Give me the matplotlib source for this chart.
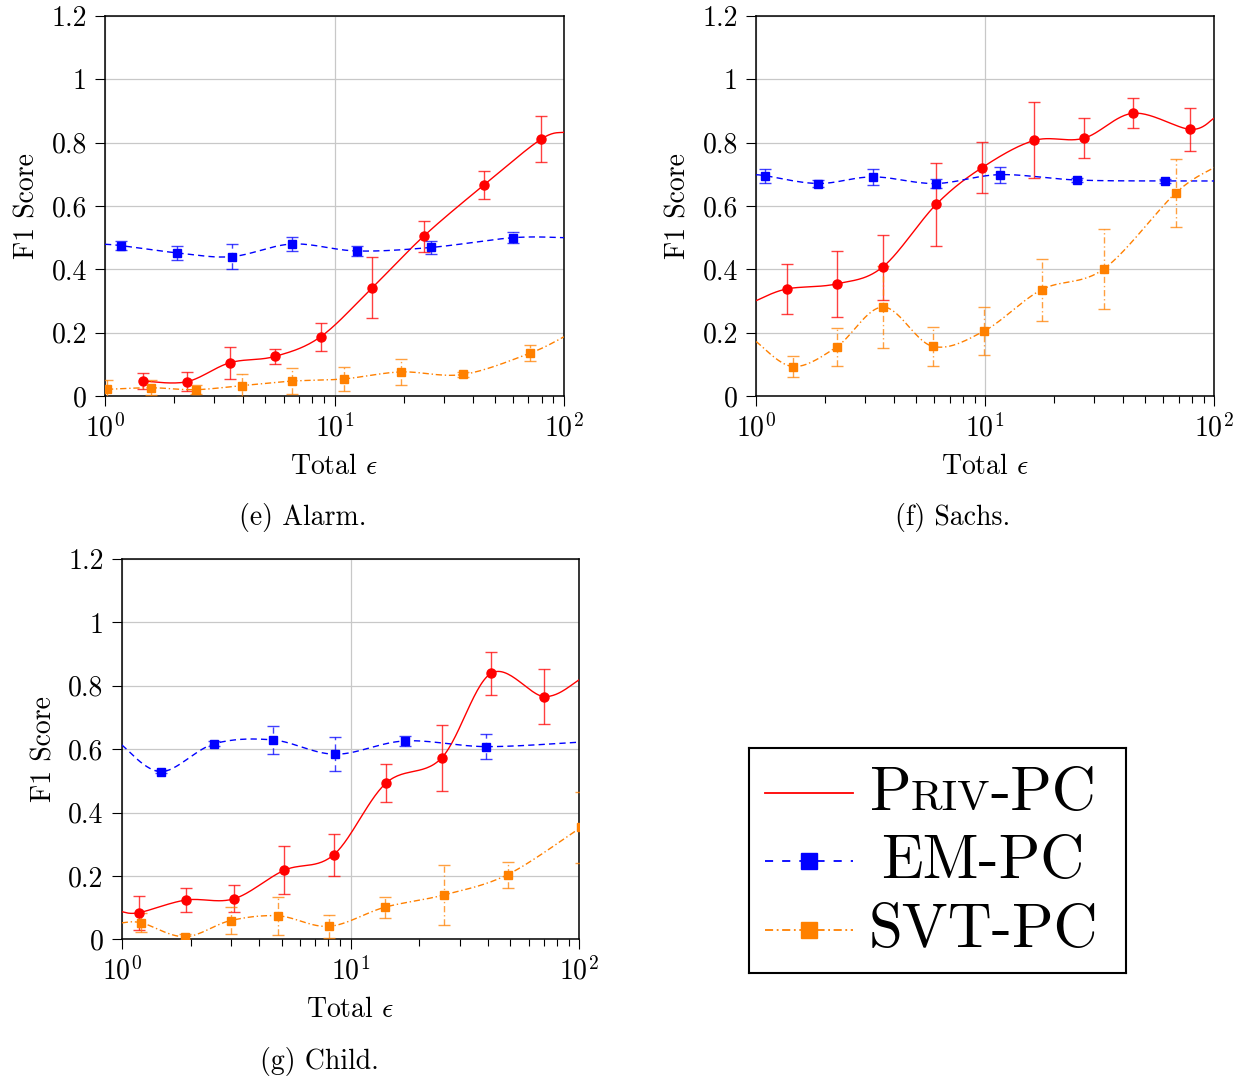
import numpy as np
import matplotlib
matplotlib.use("Agg")
import matplotlib.pyplot as plt
from matplotlib.ticker import FixedLocator, LogLocator, NullFormatter

plt.rcParams["font.family"] = ["cmr10", "DejaVu Serif"]
plt.rcParams["mathtext.fontset"] = "cm"
plt.rcParams["axes.formatter.use_mathtext"] = True
plt.rcParams["axes.unicode_minus"] = False

# ---- Alarm ----
alarm_priv_x = [1.47, 2.27, 3.5, 5.5, 8.7, 14.6, 24.5, 44.7, 79.4]
alarm_priv_y = [0.047, 0.045, 0.105, 0.125, 0.187, 0.342, 0.505, 0.666, 0.811]
alarm_priv_e = [0.026, 0.03, 0.05, 0.025, 0.044, 0.096, 0.049, 0.044, 0.073]
alarm_em_x = [1.17, 2.06, 3.56, 6.55, 12.5, 26.3, 60.1]
alarm_em_y = [0.475, 0.452, 0.44, 0.48, 0.458, 0.469, 0.5]
alarm_em_e = [0.015, 0.023, 0.04, 0.023, 0.015, 0.021, 0.017]
alarm_svt_x = [1.02, 1.59, 2.48, 3.97, 6.5, 11.0, 19.5, 36.3, 71]
alarm_svt_y = [0.021, 0.026, 0.02, 0.033, 0.047, 0.054, 0.076, 0.068, 0.135]
alarm_svt_e = [0.03, 0.024, 0.015, 0.036, 0.04, 0.037, 0.04, 0.008, 0.025]
# curve values where the lines leave the axes (left, right); None = starts at first point
alarm_ends = {"priv": (None, 0.833), "em": (0.479, 0.5), "svt": (None, 0.187)}

# ---- Sachs ----
sachs_priv_x = [1.36, 2.25, 3.57, 6.12, 9.7, 16.4, 27, 44.5, 78.8]
sachs_priv_y = [0.338, 0.354, 0.407, 0.605, 0.721, 0.807, 0.814, 0.893, 0.842]
sachs_priv_e = [0.078, 0.104, 0.103, 0.13, 0.08, 0.12, 0.063, 0.047, 0.067]
sachs_em_x = [1.09, 1.87, 3.25, 6.08, 11.6, 25.2, 60.9]
sachs_em_y = [0.696, 0.671, 0.692, 0.671, 0.699, 0.682, 0.679]
sachs_em_e = [0.022, 0.01, 0.026, 0.015, 0.025, 0.006, 0.005]
sachs_svt_x = [1.45, 2.25, 3.59, 5.9, 9.9, 17.7, 33, 68]
sachs_svt_y = [0.093, 0.155, 0.281, 0.157, 0.205, 0.336, 0.401, 0.641]
sachs_svt_e = [0.032, 0.059, 0.13, 0.061, 0.077, 0.098, 0.126, 0.106]
sachs_ends = {"priv": (0.301, 0.877), "em": (0.698, 0.679), "svt": (0.172, 0.721)}

# ---- Child ----
child_priv_x = [1.19, 1.91, 3.1, 5.14, 8.46, 14.3, 25, 41.1, 70.1]
child_priv_y = [0.084, 0.124, 0.128, 0.218, 0.267, 0.493, 0.572, 0.839, 0.766]
child_priv_e = [0.054, 0.038, 0.043, 0.076, 0.066, 0.059, 0.104, 0.068, 0.088]
child_em_x = [1.49, 2.54, 4.6, 8.59, 17.3, 39.1]
child_em_y = [0.529, 0.617, 0.629, 0.584, 0.626, 0.608]
child_em_e = [0.005, 0.008, 0.043, 0.053, 0.017, 0.04]
child_svt_x = [1.22, 1.89, 2.99, 4.84, 8.08, 14.1, 25.6, 48.6, 101.5]
child_svt_y = [0.052, 0.008, 0.059, 0.074, 0.041, 0.101, 0.14, 0.204, 0.353]
child_svt_e = [0.03, 0.01, 0.043, 0.06, 0.037, 0.033, 0.095, 0.041, 0.113]
child_ends = {"priv": (0.087, 0.819), "em": (0.613, 0.622), "svt": (0.052, None)}

ORANGE = (1.0, 0.5, 0.0)
styles = {
    "priv": dict(color="red", ls="-", marker="o", ms=6.5),
    "em": dict(color="blue", ls=(0, (4.5, 3)), marker="s", ms=5.5),
    "svt": dict(color=ORANGE, ls=(0, (4.5, 2, 1, 2)), marker="s", ms=5.5),
}
FS = 20


def smooth(xs, ys, n=30):
    # Catmull-Rom style bezier through points, in log-x plot space
    u = np.log10(xs) * 229.0
    v = np.array(ys) * 316.7
    P = np.column_stack([u, v])
    P = np.vstack([P[0], P, P[-1]])
    out = []
    for i in range(1, len(P) - 2):
        p0, p1, p2, p3 = P[i - 1], P[i], P[i + 1], P[i + 2]
        c1 = p1 + (p2 - p0) / 6.0
        c2 = p2 - (p3 - p1) / 6.0
        t = np.linspace(0, 1, n)[:, None]
        b = (1 - t) ** 3 * p1 + 3 * (1 - t) ** 2 * t * c1 + 3 * (1 - t) * t ** 2 * c2 + t ** 3 * p2
        out.append(b)
    B = np.vstack(out)
    return 10 ** (B[:, 0] / 229.0), B[:, 1] / 316.7


def draw_series(ax, key, xs, ys, es, ends):
    st = styles[key]
    lx, ly = list(xs), list(ys)
    left, right = ends
    if left is not None:
        lx = [1.0] + lx
        ly = [left] + ly
    if right is not None:
        lx = lx + [100.0]
        ly = ly + [right]
    cx, cy = smooth(lx, ly)
    ax.plot(cx, cy, color=st["color"], ls=st["ls"], lw=1.0, zorder=3)
    eb = ax.errorbar(xs, ys, yerr=es, fmt="none", ecolor=st["color"], elinewidth=1.0,
                     capsize=4, capthick=1.0, alpha=0.75, zorder=3)
    for lc in eb[2]:
        lc.set_linestyle(st["ls"])
    ax.plot(xs, ys, ls="none", marker=st["marker"], ms=st["ms"], color=st["color"],
            mec=st["color"], zorder=4)


def setup_axes(ax):
    ax.set_xscale("log")
    ax.set_xlim(1, 100)
    ax.set_ylim(0, 1.2)
    ax.set_yticks([0, 0.2, 0.4, 0.6, 0.8, 1.0, 1.2])
    ax.set_yticklabels(["0", "0.2", "0.4", "0.6", "0.8", "1", "1.2"])
    ax.xaxis.set_major_locator(FixedLocator([1, 10, 100]))
    ax.set_xticklabels([r"$10^0$", r"$10^1$", r"$10^2$"])
    ax.xaxis.set_minor_locator(LogLocator(base=10, subs=np.arange(2, 10)))
    ax.xaxis.set_minor_formatter(NullFormatter())
    ax.grid(True, which="major", color="#c8c8c8", lw=0.9)
    ax.set_axisbelow(True)
    ax.tick_params(which="major", length=7, width=0.8, pad=6, labelsize=FS)
    ax.tick_params(which="minor", length=5, width=0.8)
    for s in ax.spines.values():
        s.set_linewidth(1.1)
    ax.set_xlabel(r"Total $\epsilon$", fontsize=FS, labelpad=8)
    ax.set_ylabel("F1 Score", fontsize=FS, labelpad=8)


W, H = 1241, 1080
fig = plt.figure(figsize=(W / 100, H / 100), dpi=100)


def px_axes(x0, x1, y0, y1):
    return fig.add_axes([x0 / W, 1 - y1 / H, (x1 - x0) / W, (y1 - y0) / H])


panels = [
    (px_axes(105, 564, 16, 396), [
        ("priv", alarm_priv_x, alarm_priv_y, alarm_priv_e),
        ("em", alarm_em_x, alarm_em_y, alarm_em_e),
        ("svt", alarm_svt_x, alarm_svt_y, alarm_svt_e)], alarm_ends,
     "(e) Alarm.", 303, 518),
    (px_axes(756, 1214, 16, 396), [
        ("priv", sachs_priv_x, sachs_priv_y, sachs_priv_e),
        ("em", sachs_em_x, sachs_em_y, sachs_em_e),
        ("svt", sachs_svt_x, sachs_svt_y, sachs_svt_e)], sachs_ends,
     "(f) Sachs.", 953, 518),
    (px_axes(121.7, 579.3, 559, 939.3), [
        ("priv", child_priv_x, child_priv_y, child_priv_e),
        ("em", child_em_x, child_em_y, child_em_e),
        ("svt", child_svt_x, child_svt_y, child_svt_e)], child_ends,
     "(g) Child.", 319.5, 1061),
]

for ax, series, ends, cap, cx, cy in panels:
    setup_axes(ax)
    for key, xs, ys, es in series:
        draw_series(ax, key, xs, ys, es, ends[key])
    fig.text(cx / W, 1 - cy / H, cap, ha="center", va="center", fontsize=FS)

# ---- legend box (pixel coordinates inside the box) ----
lg = px_axes(749, 1126, 748, 973)
lg.set_xlim(0, 377)
lg.set_ylim(225, 0)
lg.set_xticks([])
lg.set_yticks([])
for s in lg.spines.values():
    s.set_linewidth(1.5)

hx = np.array([16, 104])
lg.plot(hx, [45, 45], color="red", lw=1.3)
lg.plot(hx, [113, 113], color="blue", lw=1.3, ls=(0, (4.5, 5)))
lg.plot([60], [113], marker="s", ms=11, color="blue", ls="none")
lg.plot(hx, [182, 182], color=ORANGE, lw=1.3, ls=(0, (4.5, 2, 1, 2)))
lg.plot([60], [182], marker="s", ms=11, color=ORANGE, ls="none")

big, small = 44, 31
lg.text(234, 130, "EM-PC", fontsize=big, ha="center", va="baseline")
lg.text(234, 199, "SVT-PC", fontsize=big, ha="center", va="baseline")

# Priv-PC in small caps: build from pieces
pieces = [("P", big), ("RIV", small), ("-PC", big)]
texts = [lg.text(0, 62, s, fontsize=f, ha="left", va="baseline") for s, f in pieces]
fig.canvas.draw()
r = fig.canvas.get_renderer()
inv = lg.transData.inverted()
widths = []
for t in texts:
    bb = t.get_window_extent(r)
    x0 = inv.transform((bb.x0, bb.y0))[0]
    x1 = inv.transform((bb.x1, bb.y0))[0]
    widths.append(x1 - x0)
x = 234 - sum(widths) / 2
for t, w in zip(texts, widths):
    t.set_x(x)
    x += w

fig.savefig("out.png", dpi=100)
